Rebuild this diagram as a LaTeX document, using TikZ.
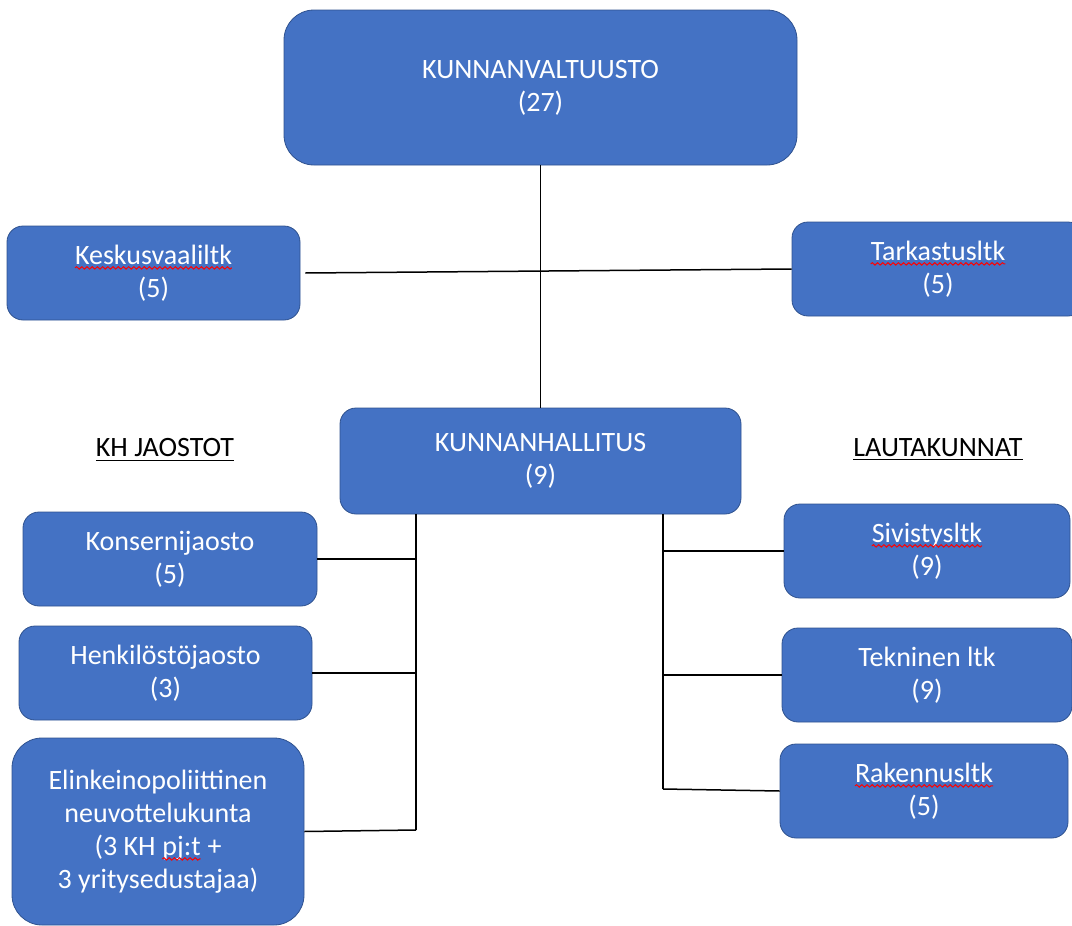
\documentclass[tikz,border=0pt]{standalone}
\usepackage{fontspec}
\setmainfont{Carlito}
\usetikzlibrary{decorations.pathmorphing}
\definecolor{boxblue}{HTML}{4472C4}
\definecolor{boxedge}{HTML}{2F528F}
\newcommand{\spellwave}[1]{\tikz[baseline = (sw.base), sharp corners]{\node[inner sep = 0pt, outer sep = 0pt, minimum width = 0pt, minimum height = 0pt, draw = none, fill = none, text = white] (sw) {#1};
	\draw[red, fill = none, sharp corners, line width = 0.5pt, decorate, decoration = {snake, amplitude = 0.6pt, segment length = 2.6pt}]
		([yshift = -1.8pt]sw.base west) -- ([yshift = -1.8pt]sw.base east);}}
\begin{document}
\begin{tikzpicture}[x = 0.5pt, y = -0.5pt,
	orgbox/.style = {draw = boxedge, fill = boxblue, text = white, align = center,
		font = \fontsize{14}{16.5}\selectfont, inner sep = 0pt, rounded corners = 8pt},
	grouplabel/.style = {font = \fontsize{14}{16.5}\selectfont, inner sep = 0pt},
	conn/.style = {draw = black, line width = 0.75pt}]
	\useasboundingbox (0,0) rectangle (1072,926);
	
	% ylin taso
	\node[orgbox, minimum width = 256.5pt, minimum height = 77.5pt, rounded corners = 15pt] (kv) at (540.5,87.5) {KUNNANVALTUUSTO\\(27)};
	\node[orgbox, minimum width = 146.5pt, minimum height = 47pt] (kvl) at (153.5,273) {\spellwave{Keskusvaaliltk}\\(5)};
	\node[orgbox, minimum width = 146pt, minimum height = 47pt] (tark) at (938,269) {\spellwave{Tarkastusltk}\\(5)};
	\node[orgbox, minimum width = 200.5pt, minimum height = 53pt] (kh) at (540.5,461) {KUNNANHALLITUS\\(9)};
	
	\node[grouplabel] (jaostot) at (165,450) {\underline{KH JAOSTOT}};
	\node[grouplabel] (ltk) at (938,450) {\underline{LAUTAKUNNAT}};
	
	% KH jaostot
	\node[orgbox, minimum width = 147pt, minimum height = 47pt] (konserni) at (170,559) {Konsernijaosto\\(5)};
	\node[orgbox, minimum width = 146.5pt, minimum height = 47pt] (henk) at (165.5,673) {Henkilöstöjaosto\\(3)};
	\node[orgbox, minimum width = 146pt, minimum height = 93.5pt, rounded corners = 15pt] (elink) at (158,831.5) {Elinkeinopoliittinen\\neuvottelukunta\\(3 KH \spellwave{pj:t} +\\3 yritysedustajaa)};
	
	% lautakunnat
	\node[orgbox, minimum width = 143pt, minimum height = 47pt] (sivistys) at (927,551) {\spellwave{Sivistysltk}\\(9)};
	\node[orgbox, minimum width = 145pt, minimum height = 47pt] (tekn) at (927,675) {Tekninen ltk\\(9)};
	\node[orgbox, minimum width = 144pt, minimum height = 47pt] (rak) at (924,791) {\spellwave{Rakennusltk}\\(5)};
	
	% yhteydet
	\draw[conn] (kv.south) -- (kh.north);
	\draw[conn] ([xshift = 2.5pt]kvl.east) -- (tark.west);
	
	\coordinate (ltop) at (416,514);
	\coordinate (lbot) at (416,830);
	\draw[conn] (ltop) -- (lbot);
	\draw[conn] (konserni.east) -- (konserni.east -| ltop);
	\draw[conn] (henk.east) -- (henk.east -| ltop);
	\draw[conn] (elink.east) -- (lbot);
	
	\coordinate (rtop) at (663,514);
	\coordinate (rbot) at (663,789);
	\draw[conn] (rtop) -- (rbot);
	\draw[conn] (sivistys.west) -- (sivistys.west -| rtop);
	\draw[conn] (tekn.west) -- (tekn.west -| rtop);
	\draw[conn] (rak.west) -- (rbot);
\end{tikzpicture}
\end{document}
